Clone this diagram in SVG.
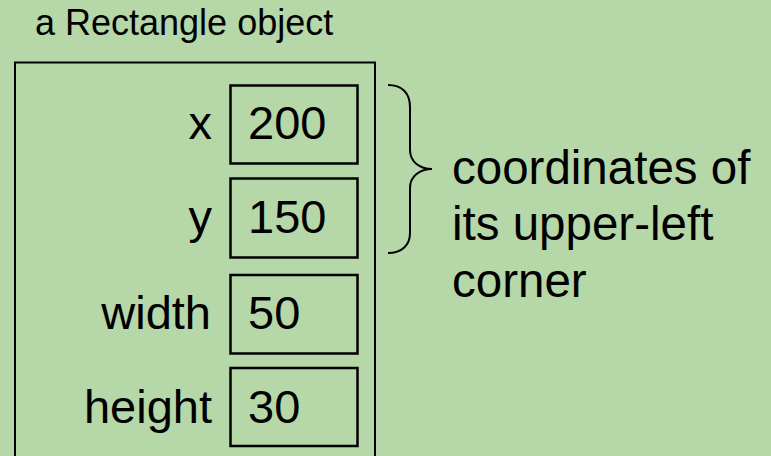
<svg xmlns="http://www.w3.org/2000/svg" width="771" height="456" viewBox="0 0 771 456">
<style>
text{font-family:"Liberation Sans",Arial,sans-serif;fill:#000}
.lbl{font-size:47px;text-anchor:end}
.val{font-size:47px}
.note{font-size:47.5px}
.box{fill:none;stroke:#000;stroke-width:2.5}
.outer{fill:none;stroke:#000;stroke-width:2}
</style>
<rect x="0" y="0" width="771" height="456" fill="#b6d7a8"/>
<g id="title"><text x="35" y="35" font-size="36">a Rectangle object</text></g>
<g id="rectangle-object"><rect class="outer" x="15" y="62.5" width="360" height="420"/></g>
<g id="field-x"><text class="lbl" x="212" y="139">x</text><rect class="box" x="230.5" y="85.5" width="127" height="78"/><text class="val" x="248" y="139">200</text></g>
<g id="field-y"><text class="lbl" x="212" y="233">y</text><rect class="box" x="230.5" y="178.5" width="127" height="79"/><text class="val" x="248" y="233">150</text></g>
<g id="field-width"><text class="lbl" x="211" y="329">width</text><rect class="box" x="230.5" y="275" width="127" height="78.5"/><text class="val" x="248" y="329">50</text></g>
<g id="field-height"><text class="lbl" x="212" y="423">height</text><rect class="box" x="230.5" y="368" width="127" height="78"/><text class="val" x="248" y="423">30</text></g>
<g id="connectors"><path d="M388,85 C402,85 410,93 410,107 L410,150 C410,162 420,169 432,169 C420,169 410,176 410,188 L410,233 C410,245 402,253 388,253" fill="none" stroke="#000" stroke-width="2"/></g>
<g id="note"><text class="note" x="452" y="184">coordinates of</text><text class="note" x="452" y="240">its upper-left</text><text class="note" x="452" y="297">corner</text></g>
</svg>
